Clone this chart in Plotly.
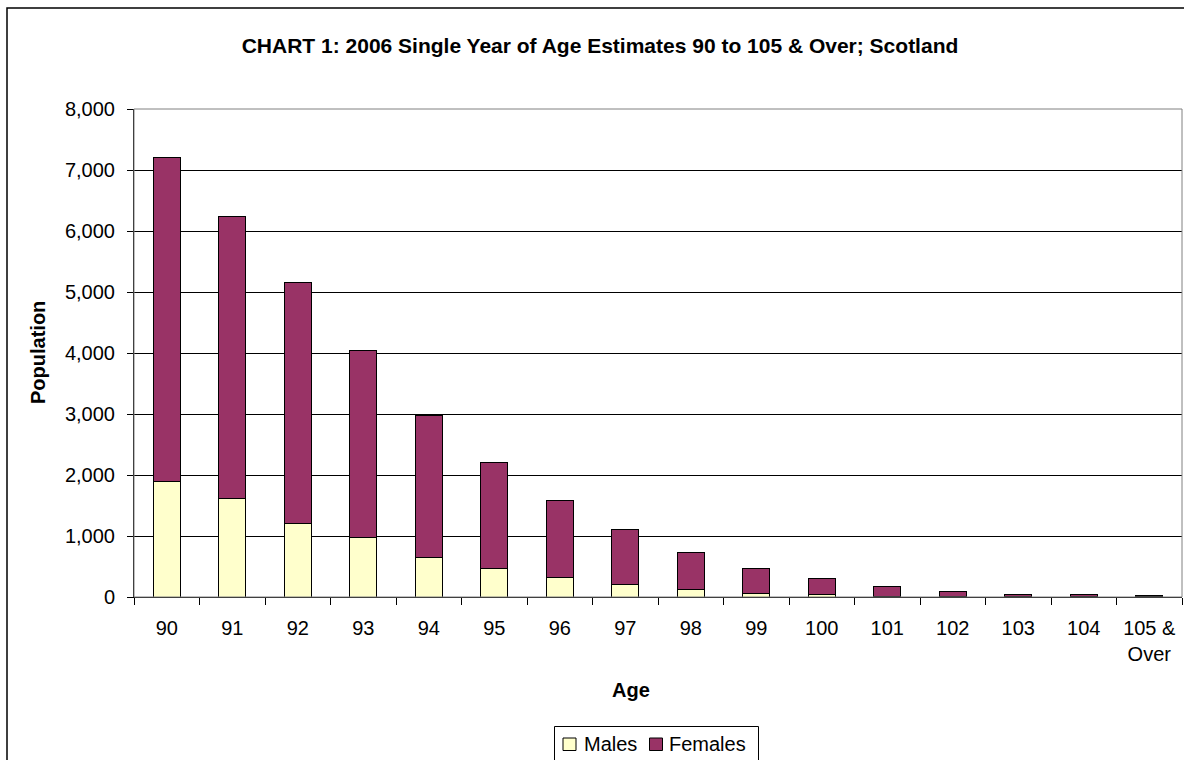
import plotly.graph_objects as go

ages = ["90", "91", "92", "93", "94", "95", "96", "97", "98", "99",
        "100", "101", "102", "103", "104", "105 &<br>Over"]
males = [1900, 1610, 1210, 970, 645, 470, 315, 210, 120, 55, 35, 15, 8, 4, 3, 2]
females = [5310, 4630, 3940, 3075, 2335, 1730, 1270, 895, 615, 415, 265, 155, 77, 36, 37, 18]
y_ticks = [0, 1000, 2000, 3000, 4000, 5000, 6000, 7000, 8000]
y_tick_labels = ["0", "1,000", "2,000", "3,000", "4,000", "5,000", "6,000", "7,000", "8,000"]
series_names = ["Males", "Females"]
series_colors = ["#FFFFCC", "#993366"]

W, H = 1184, 760
L, R, T, B = 134, 2, 109, 163
PW, PH = W - L - R, H - T - B


def px_x(p):
    return (p - L) / PW


def px_y(p):
    return (H - B - p) / PH


FONT = "Liberation Sans, Arial, sans-serif"

fig = go.Figure()
for name, vals, col in zip(series_names, [males, females], series_colors):
    fig.add_trace(go.Bar(x=ages, y=vals, name=name,
                         marker=dict(color=col, line=dict(color="#000000", width=1))))

shapes = [
    dict(type="rect", xref="paper", yref="paper", x0=0, x1=1, y0=0, y1=1,
         line=dict(color="#808080", width=1), fillcolor="rgba(0,0,0,0)", layer="above"),
    dict(type="rect", xref="paper", yref="paper",
         x0=px_x(7), x1=px_x(1200), y0=px_y(780), y1=px_y(8),
         line=dict(color="#000000", width=1.5), fillcolor="rgba(0,0,0,0)", layer="above"),
    # legend box
    dict(type="rect", xref="paper", yref="paper",
         x0=px_x(554.5), x1=px_x(758.5), y0=px_y(775), y1=px_y(726.5),
         line=dict(color="#000000", width=1), fillcolor="white", layer="above"),
]
annotations = [
    dict(text="<b>Population</b>", textangle=-90, xref="paper", yref="paper",
         x=px_x(38), y=0.5, xanchor="center", yanchor="middle", showarrow=False,
         font=dict(family=FONT, size=20)),
    dict(text="<b>Age</b>", xref="paper", yref="paper",
         x=px_x(631), y=px_y(690), xanchor="center", yanchor="middle", showarrow=False,
         font=dict(family=FONT, size=20)),
]
legend_sq_x = [563, 649.5]
legend_tx_x = [582, 667]
for name, col, sx, tx in zip(series_names, series_colors, legend_sq_x, legend_tx_x):
    shapes.append(dict(type="rect", xref="paper", yref="paper",
                       x0=px_x(sx), x1=px_x(sx + 13), y0=px_y(750.5), y1=px_y(738),
                       line=dict(color="#000000", width=1), fillcolor=col, layer="above"))
    annotations.append(dict(text=name, xref="paper", yref="paper",
                            x=px_x(tx), y=px_y(744), xanchor="left", yanchor="middle",
                            showarrow=False, font=dict(family=FONT, size=20)))

fig.update_layout(
    width=W, height=H,
    margin=dict(l=L, r=R, t=T, b=B, autoexpand=False),
    barmode="stack", bargap=0.593,
    paper_bgcolor="white", plot_bgcolor="white",
    font=dict(family=FONT, size=20, color="#000000"),
    title=dict(text="<b>CHART 1: 2006 Single Year of Age Estimates 90 to 105 &amp; Over; Scotland</b>",
               x=600 / W, xref="container", xanchor="center",
               y=1 - 46 / H, yref="container", yanchor="middle",
               font=dict(family=FONT, size=21, color="#000000")),
    showlegend=False,
    xaxis=dict(type="category", tickson="boundaries", ticks="outside", ticklen=7,
               tickcolor="#000000", showline=True, linecolor="#000000", linewidth=1,
               showgrid=False, tickfont=dict(size=20), ticklabelstandoff=13),
    yaxis=dict(range=[0, 8000], tickvals=y_ticks, ticktext=y_tick_labels,
               ticks="outside", ticklen=6, tickcolor="#000000",
               showline=True, linecolor="#000000", linewidth=1,
               showgrid=True, gridcolor="#000000", gridwidth=1, zeroline=False,
               tickfont=dict(size=20), ticklabelstandoff=8),
    shapes=shapes,
    annotations=annotations,
)

fig.write_html("out.html")
